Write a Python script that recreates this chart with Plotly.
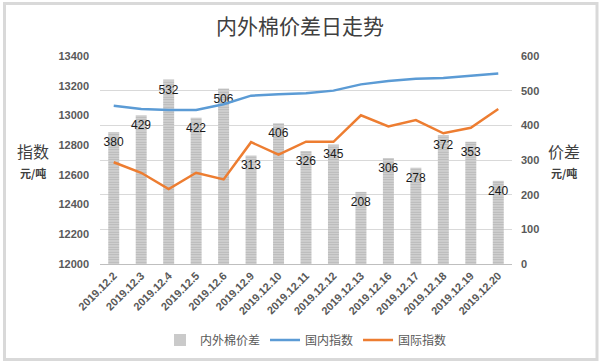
import plotly.graph_objects as go

dates = ["2019.12.2", "2019.12.3", "2019.12.4", "2019.12.5", "2019.12.6", "2019.12.9",
         "2019.12.10", "2019.12.11", "2019.12.12", "2019.12.13", "2019.12.16",
         "2019.12.17", "2019.12.18", "2019.12.19", "2019.12.20"]
spread = [380, 429, 532, 422, 506, 313, 406, 326, 345, 208, 306, 278, 372, 353, 240]
domestic = [13065, 13043, 13036, 13036, 13075, 13133, 13142, 13149, 13167, 13209,
            13232, 13247, 13252, 13270, 13283]
international = [12685, 12614, 12504, 12614, 12569, 12820, 12736, 12823, 12822, 13001,
                 12926, 12969, 12880, 12917, 13043]
left_ticks = [12000, 12200, 12400, 12600, 12800, 13000, 13200, 13400]
right_ticks = [0, 100, 200, 300, 400, 500, 600]

tick_font = dict(family="Liberation Sans, Arial", size=11, color="#595959", weight="bold")

W, H = 600, 362
ML, MR, MT, MB = 100, 88, 56, 98
pw, ph = W - ML - MR, H - MT - MB


def px(x):
    return (x - ML) / pw


def py(y):
    return (H - MB - y) / ph


fig = go.Figure()
fig.add_trace(go.Bar(
    x=dates, y=spread, name="内外棉价差", yaxis="y",
    marker=dict(color="#b0b0b0", line=dict(width=0),
                pattern=dict(shape="-", bgcolor="#dedede", fgcolor="#8e8e8e",
                             size=2.5, solidity=0.6)),
    text=[str(v) for v in spread], textposition="inside", insidetextanchor="end",
    constraintext="none", textangle=0,
    insidetextfont=dict(family="Liberation Sans, Arial", size=12, color="#1a1a1a"),
))
fig.add_trace(go.Scatter(
    x=dates, y=domestic, name="国内指数", yaxis="y2", mode="lines",
    line=dict(color="#5b9bd5", width=2.5),
))
fig.add_trace(go.Scatter(
    x=dates, y=international, name="国际指数", yaxis="y2", mode="lines",
    line=dict(color="#ed7d31", width=2.5),
))

fig.update_layout(
    width=W, height=H,
    margin=dict(l=ML, r=MR, t=MT, b=MB, autoexpand=False),
    paper_bgcolor="white", plot_bgcolor="white",
    bargap=0.6,
    showlegend=True,
    title=dict(text="内外棉价差日走势", x=0.5, xanchor="center",
               y=1 - 27 / H, yanchor="middle",
               font=dict(family="Noto Sans CJK SC", size=21, color="#404040")),
    xaxis=dict(type="category", tickangle=-45, showgrid=False, showline=True,
               linecolor="#bfbfbf", linewidth=1, ticks="", automargin=False,
               tickfont=tick_font),
    yaxis=dict(side="right", range=[0, 600], tickvals=right_ticks, showgrid=True,
               gridcolor="#d9d9d9", gridwidth=1, zeroline=False, ticks="",
               ticklabelstandoff=8, automargin=False, tickfont=tick_font),
    yaxis2=dict(side="left", overlaying="y", range=[12000, 13400], tickvals=left_ticks,
                ticktext=[str(v) for v in left_ticks],
                showgrid=False, zeroline=False, ticks="", ticklabelstandoff=10,
                automargin=False, tickfont=tick_font),
    legend=dict(orientation="h", x=0.5, xanchor="center", y=py(340), yanchor="middle",
                font=dict(family="Noto Sans CJK SC", size=12, color="#595959"),
                itemwidth=30, traceorder="normal"),
)

big = dict(family="Noto Sans CJK SC", size=16, color="#404040")
small = dict(family="Noto Sans CJK SC", size=11, color="#404040")
fig.update_layout(annotations=[
    dict(text="指数", x=px(33), y=py(151), xref="paper", yref="paper", showarrow=False,
         xanchor="center", yanchor="middle", font=big),
    dict(text="<b>元/吨</b>", x=px(33), y=py(173), xref="paper", yref="paper",
         showarrow=False, xanchor="center", yanchor="middle", font=small),
    dict(text="价差", x=px(564), y=py(151), xref="paper", yref="paper", showarrow=False,
         xanchor="center", yanchor="middle", font=big),
    dict(text="<b>元/吨</b>", x=px(564), y=py(173), xref="paper", yref="paper",
         showarrow=False, xanchor="center", yanchor="middle", font=small),
])

fig.add_shape(type="rect", xref="paper", yref="paper",
              x0=px(4.5), x1=px(597), y0=py(359.5), y1=py(3.5),
              line=dict(color="#d9d9d9", width=3), fillcolor="rgba(0,0,0,0)", layer="below")

fig.write_html("out.html", config={"displayModeBar": False},
               post_script="document.body.style.margin='0px';")
